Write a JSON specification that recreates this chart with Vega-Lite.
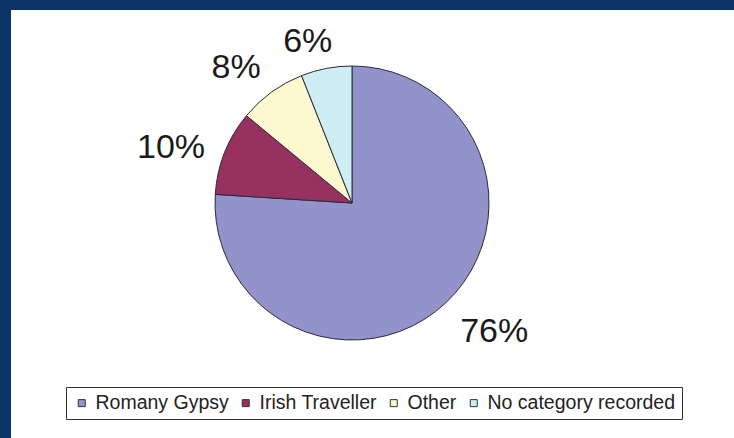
{
  "$schema": "https://vega.github.io/schema/vega-lite/v6.json",
  "width": 723,
  "height": 428,
  "autosize": {"type": "none"},
  "padding": {"left": 11, "top": 10, "right": 0, "bottom": 0},
  "background": "#0b3466",
  "view": {"fill": "white", "stroke": null},
  "data": {
    "values": [
      {"category": "Romany Gypsy", "percent": 76, "rank": 1, "label": "76%"},
      {"category": "Irish Traveller", "percent": 10, "rank": 2, "label": "10%"},
      {"category": "Other", "percent": 8, "rank": 3, "label": "8%"},
      {"category": "No category recorded", "percent": 6, "rank": 4, "label": "6%"}
    ]
  },
  "encoding": {
    "theta": {"field": "percent", "type": "quantitative", "stack": true},
    "order": {"field": "rank", "type": "quantitative"}
  },
  "layer": [
    {
      "mark": {
        "type": "arc",
        "outerRadius": 137,
        "stroke": "#2a2a3a",
        "strokeWidth": 1,
        "x": {"expr": "width/2 - 20.5"},
        "y": {"expr": "height/2 - 21"}
      },
      "encoding": {
        "color": {
          "field": "category",
          "type": "nominal",
          "sort": ["Romany Gypsy", "Irish Traveller", "Other", "No category recorded"],
          "scale": {
            "domain": ["Romany Gypsy", "Irish Traveller", "Other", "No category recorded"],
            "range": ["#9393cc", "#963160", "#fdf8cf", "#cfeef4"]
          },
          "legend": {
            "orient": "none",
            "legendX": 55,
            "legendY": 377,
            "direction": "horizontal",
            "columns": 4,
            "title": null,
            "symbolType": "square",
            "symbolSize": 49,
            "symbolStrokeColor": "#333",
            "symbolStrokeWidth": 1,
            "labelFont": "Liberation Sans",
            "labelFontSize": 19.5,
            "labelLimit": 400,
            "labelColor": "#222",
            "columnPadding": 7,
            "symbolOffset": 0,
            "labelOffset": 4,
            "padding": 6,
            "strokeColor": "#333",
            "fillColor": "white"
          }
        }
      }
    },
    {
      "mark": {
        "type": "text",
        "thetaOffset": -0.08,
        "fontSize": 34,
        "font": "Liberation Sans",
        "color": "#1a1a1a",
        "x": {"expr": "width/2 - 20.5"},
        "y": {"expr": "height/2 - 21"}
      },
      "encoding": {
        "text": {"field": "label", "type": "nominal"},
        "radius": {
          "field": "percent",
          "type": "quantitative",
          "scale": {"type": "linear", "domain": [6, 10.5], "range": [167, 192], "clamp": true, "zero": false},
          "legend": null
        }
      }
    }
  ]
}
